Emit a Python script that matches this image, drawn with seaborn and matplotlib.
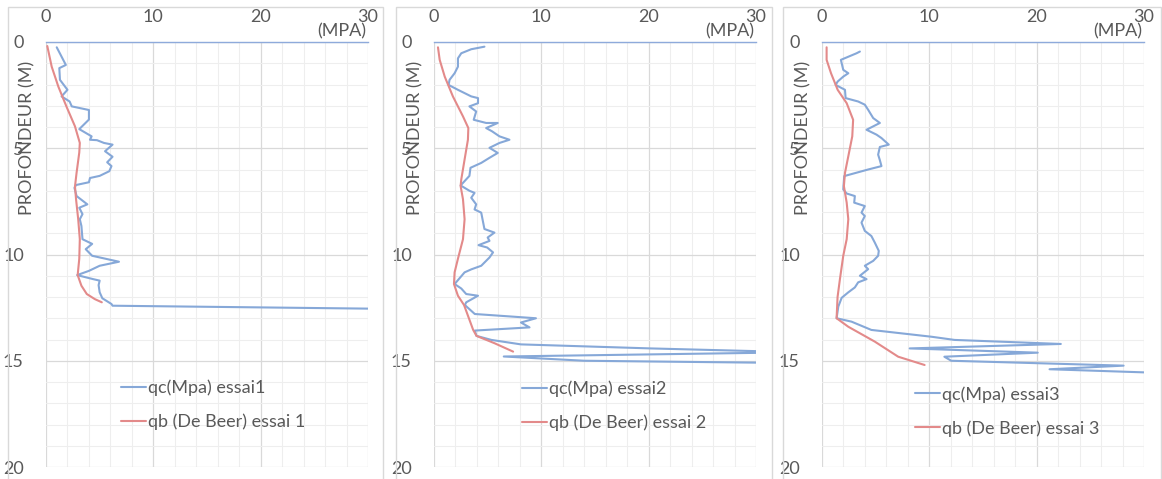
import numpy as np
import pandas as pd
import matplotlib
matplotlib.use("Agg")
import matplotlib.pyplot as plt
from matplotlib.ticker import MultipleLocator
from matplotlib.patches import Rectangle
import seaborn as sns

# ---------------- data ----------------
depth_qc1 = [0.25, 1.08, 1.23, 1.78, 2.25, 2.56, 2.8, 3.03, 3.2, 3.65, 4.1, 4.44, 4.6, 4.62, 4.75, 4.83,
             5.14, 5.4, 5.66, 5.84, 6.08, 6.3, 6.4, 6.6, 6.73, 6.86, 7.25, 7.64, 7.8, 8.1, 8.34, 8.66,
             9.28, 9.5, 9.75, 10.06, 10.34, 10.53, 10.77, 10.97, 11.16, 11.23, 11.44, 11.78, 12.06,
             12.33, 12.41, 12.55]
qc1 = [1.0, 1.85, 1.24, 1.3, 2.0, 1.45, 2.2, 2.4, 4.0, 4.0, 3.1, 4.25, 4.1, 4.75, 5.4, 6.2,
       5.5, 6.2, 5.7, 6.1, 5.9, 5.0, 4.1, 4.0, 2.8, 2.65, 2.85, 3.85, 3.1, 3.4, 3.15, 3.3,
       3.4, 4.3, 3.7, 4.3, 6.8, 5.0, 4.0, 2.9, 4.4, 5.0, 4.9, 5.0, 5.25,
       6.1, 6.2, 30.5]
depth_qb1 = [0.19, 1.16, 2.1, 3.03, 3.97, 4.75, 5.2, 6.15, 6.8, 7.4, 8.34, 9.28, 10.2, 10.97,
             11.47, 11.86, 12.1, 12.25]
qb1 = [0.12, 0.53, 1.15, 1.9, 2.7, 3.15, 3.1, 2.85, 2.7, 2.8, 3.0, 3.15, 3.1, 2.95,
       3.3, 3.8, 4.55, 5.2]

depth_qc2 = [0.22, 0.34, 0.53, 0.77, 1.16, 1.47, 1.78, 2.02, 2.25, 2.56, 2.64, 2.88, 3.03, 3.27,
             3.66, 3.81, 3.81, 4.05, 4.2, 4.44, 4.6, 4.75, 4.98, 5.22, 5.45, 5.69, 5.92, 6.3,
             6.75, 7.0, 7.1, 7.33, 7.64, 7.88, 8.03, 8.42, 8.8, 8.97, 9.2, 9.36, 9.56, 9.67,
             9.9, 10.14, 10.53, 10.7, 10.84, 11.39, 11.6, 11.86, 11.94, 12.25, 12.38, 12.8,
             13.0, 13.2, 13.43, 13.58, 13.83, 14.02, 14.23, 14.42, 14.6, 14.8, 15.0, 15.1]
qc2 = [4.7, 3.47, 2.54, 2.23, 2.23, 1.92, 1.45, 1.36, 2.23, 3.47, 4.1, 4.1, 3.3, 3.93,
       3.7, 4.86, 5.94, 4.86, 5.4, 6.1, 7.03, 6.1, 5.17, 5.94, 5.17, 4.4, 3.4, 3.3,
       2.48, 3.3, 3.78, 3.47, 3.93, 3.78, 4.4, 4.55, 4.7, 5.63, 5.0, 5.17, 4.15, 4.95,
       5.5, 5.17, 4.4, 3.47, 2.85, 1.92, 2.54, 3.0, 4.1, 3.0, 2.88, 3.8,
       9.5, 8.1, 8.9, 3.8, 3.96, 5.35, 8.1, 20.2, 34.0, 6.5, 14.0, 32.0]
depth_qb2 = [0.25, 0.84, 1.63, 2.56, 3.5, 4.05, 4.6, 5.53, 6.47, 6.78, 7.4, 8.34, 9.28, 10.2,
             10.84, 11.39, 11.94, 12.38, 13.55, 13.83, 14.18, 14.57]
qb2 = [0.37, 0.53, 1.0, 1.76, 2.7, 3.2, 3.16, 2.85, 2.54, 2.48, 2.7, 2.85, 2.7, 2.23,
       1.92, 1.86, 2.23, 2.8, 3.65, 3.96, 5.66, 7.37]

depth_qc3 = [0.45, 0.53, 0.84, 1.31, 1.47, 1.63, 1.86, 2.02, 2.25, 2.64, 2.8, 2.95, 3.19, 3.58,
             3.81, 4.13, 4.36, 4.52, 4.83, 4.94, 5.3, 5.56, 5.84, 6.0, 6.31, 6.94, 7.13, 7.25,
             7.56, 7.72, 8.03, 8.19, 8.5, 8.89, 9.13, 9.44, 9.83, 10.06, 10.3, 10.53, 10.69,
             11.0, 11.16, 11.31, 11.55, 11.78, 12.04, 12.45, 13.0, 13.16, 13.55, 13.87, 14.02,
             14.21, 14.42, 14.62, 14.81, 15.0, 15.23, 15.4, 15.55]
qc3 = [3.53, 3.22, 1.76, 1.98, 2.45, 1.98, 1.46, 1.27, 2.14, 2.2, 3.37, 3.99, 4.3, 4.77,
       5.39, 4.15, 5.08, 5.54, 6.22, 5.39, 5.23, 5.39, 5.54, 4.3, 2.07, 1.98, 2.3, 3.06,
       3.0, 3.99, 3.68, 3.99, 3.68, 3.99, 4.6, 4.92, 5.29, 5.23, 4.77, 3.99, 4.3,
       3.53, 4.15, 3.37, 3.06, 2.45, 1.83, 1.52, 1.36, 2.75, 4.6, 10.2, 12.35,
       22.25, 8.17, 20.1, 11.4, 12.04, 28.1, 21.2, 30.2]
depth_qb3 = [0.25, 0.84, 1.47, 2.25, 2.88, 3.66, 4.44, 5.38, 6.16, 6.78, 7.56, 8.34, 9.28, 10.06,
             11.16, 12.0, 13.0, 13.4, 14.1, 14.81, 15.2]
qb3 = [0.43, 0.43, 0.84, 1.46, 2.3, 2.9, 2.82, 2.45, 2.14, 2.04, 2.3, 2.45, 2.3, 1.98,
       1.67, 1.45, 1.36, 2.45, 4.92, 7.1, 9.56]

qc_labels = ["qc(Mpa) essai1", "qc(Mpa) essai2", "qc(Mpa) essai3"]
qb_labels = ["qb (De Beer) essai 1", "qb (De Beer) essai 2", "qb (De Beer) essai 3"]
x_ticks = [0, 10, 20, 30]
y_ticks = [0, 5, 10, 15, 20]
x_title = "(MPA)"
y_title = "PROFONDEUR (M)"

# ---------------- styling ----------------
sns.set_theme(style="white")
plt.rcParams["font.family"] = ["Lato", "DejaVu Sans"]

BLUE = "#86A8D8"
RED = "#E38A8A"
TXT = "#595959"

W, H = 1162, 479
fig = plt.figure(figsize=(W / 100, H / 100), dpi=100)

panels = [
    (depth_qc1, qc1, depth_qb1, qb1),
    (depth_qc2, qc2, depth_qb2, qb2),
    (depth_qc3, qc3, depth_qb3, qb3),
]
ax_left_px = [46, 434, 822]
ax_w_px = 322
ax_top_px, ax_bot_px = 42, 467
frame_px = [(8, 383), (396, 772), (783, 1161)]
legend_pos = [(0.233, 0.205), (0.272, 0.203), (0.289, 0.19)]

for i, (dqc, vqc, dqb, vqb) in enumerate(panels):
    fx0, fx1 = frame_px[i]
    fig.patches.append(Rectangle((fx0 / W, -0.01), (fx1 - fx0) / W, 1 - 7 / H + 0.01,
                                 transform=fig.transFigure, fill=False,
                                 edgecolor="#D9D9D9", linewidth=1.0, zorder=0))
    ax = fig.add_axes([ax_left_px[i] / W, 1 - ax_bot_px / H, ax_w_px / W,
                       (ax_bot_px - ax_top_px) / H])
    ax.set_facecolor("none")
    df_qc = pd.DataFrame({"qc": vqc, "depth": dqc})
    df_qb = pd.DataFrame({"qb": vqb, "depth": dqb})
    sns.lineplot(data=df_qc, x="qc", y="depth", sort=False, estimator=None, ax=ax,
                 color=BLUE, linewidth=1.5, label=qc_labels[i])
    sns.lineplot(data=df_qb, x="qb", y="depth", sort=False, estimator=None, ax=ax,
                 color=RED, linewidth=1.5, label=qb_labels[i])
    ax.set_xlim(0, 30)
    ax.set_ylim(20, 0)
    ax.set_xticks(x_ticks)
    ax.set_yticks(y_ticks)
    ax.xaxis.set_minor_locator(MultipleLocator(2))
    ax.yaxis.set_minor_locator(MultipleLocator(1))
    ax.grid(which="major", color="#D9D9D9", linewidth=0.9)
    ax.grid(which="minor", color="#EEEEEE", linewidth=0.8)
    ax.set_axisbelow(True)
    ax.xaxis.tick_top()
    ax.tick_params(axis="x", which="both", length=0, labelsize=13, labelcolor=TXT, pad=12)
    ax.tick_params(axis="y", which="both", length=0, labelsize=13, labelcolor=TXT, pad=16)
    for s in ["left", "right", "bottom"]:
        ax.spines[s].set_visible(False)
    ax.spines["top"].set_color("#8EAADB")
    ax.spines["top"].set_linewidth(1.0)
    ax.set_xlabel("")
    ax.set_ylabel("")
    ax.text(0.995, 1.005, x_title, transform=ax.transAxes, ha="right", va="bottom",
            fontsize=13, color=TXT)
    fig.text((ax_left_px[i] - 19) / W, 1 - 138 / H, y_title, rotation=90,
             ha="center", va="center", fontsize=13, color=TXT)
    lx, ly = legend_pos[i]
    leg = ax.legend(loc="upper left", bbox_to_anchor=(lx, ly), frameon=False,
                    fontsize=13, handlelength=1.4, handletextpad=0.1,
                    labelspacing=0.95, borderpad=0, borderaxespad=0)
    for t in leg.get_texts():
        t.set_color(TXT)

fig.savefig("out.png", dpi=100, facecolor="white")
